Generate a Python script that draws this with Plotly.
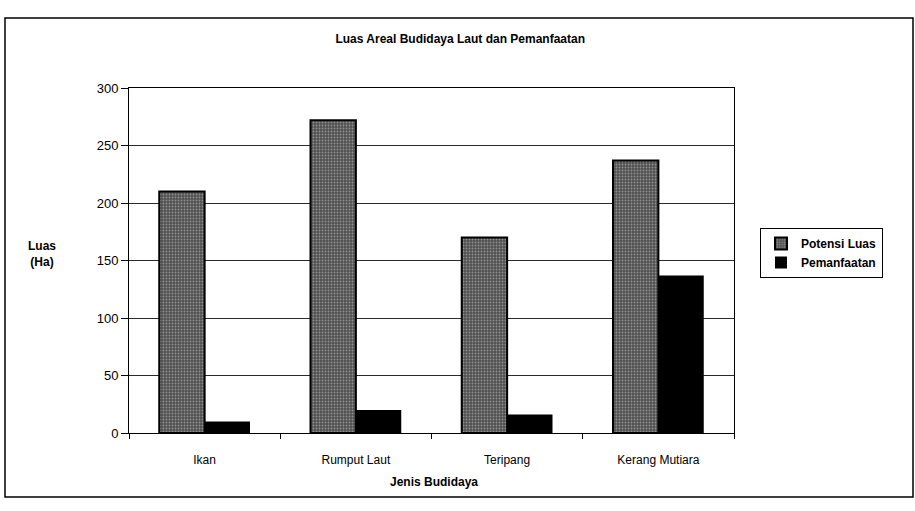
import plotly.graph_objects as go

categories = ["Ikan", "Rumput Laut", "Teripang", "Kerang Mutiara"]
potensi_luas = [210, 272, 170, 237]
pemanfaatan = [10, 20, 16, 137]
y_ticks = [0, 50, 100, 150, 200, 250, 300]

FONT = "Liberation Sans, Arial, sans-serif"

L, T, PW, PH = 129, 88, 605, 345   # plot area in pixels

def px_x(px):
    return (px - L) / PW

def px_y(py):
    return (T + PH - py) / PH

fig = go.Figure()
fig.add_trace(go.Bar(
    x=categories, y=potensi_luas, name="Potensi Luas",
    marker=dict(
        color="#505050",
        line=dict(color="black", width=2),
        pattern=dict(shape=".", fgcolor="#d0d0d0", size=3, solidity=0.3, fillmode="overlay"),
    ),
))
fig.add_trace(go.Bar(
    x=categories, y=pemanfaatan, name="Pemanfaatan",
    marker=dict(color="black", line=dict(color="black", width=0)),
))

fig.update_layout(
    width=915, height=511,
    margin=dict(l=L, r=915 - L - PW, t=T, b=511 - T - PH),
    paper_bgcolor="white", plot_bgcolor="white",
    font=dict(family=FONT, size=12, color="black"),
    barmode="group", bargap=0.40, bargroupgap=0,
    title=dict(text="<b>Luas Areal Budidaya Laut dan Pemanfaatan</b>",
               x=0.503, xanchor="center", y=1 - 39 / 511, yanchor="middle",
               font=dict(family=FONT, size=12, color="black")),
    legend=dict(x=px_x(760), y=px_y(228), xanchor="left", yanchor="top",
                bordercolor="black", borderwidth=1, bgcolor="white",
                font=dict(family=FONT, size=12, color="black", weight="bold"),
                itemwidth=30, tracegroupgap=0),
    showlegend=True,
)

fig.update_yaxes(
    range=[0, 300], tickvals=y_ticks, ticktext=[str(v) for v in y_ticks],
    showgrid=True, gridcolor="#2a2a2a", gridwidth=1,
    showline=True, linecolor="black", linewidth=1, mirror=True,
    ticks="outside", ticklen=7, tickcolor="black",
    tickfont=dict(family=FONT, size=13, color="black"),
    zeroline=False,
)
fig.update_xaxes(
    showline=True, linecolor="black", linewidth=1, mirror=True,
    ticks="outside", ticklen=5, tickcolor="black", tickson="boundaries",
    tickfont=dict(family=FONT, size=12, color="black"),
    ticklabelstandoff=16,
)

# axis titles as annotations (horizontal y title)
fig.add_annotation(text="<b>Luas<br>(Ha)</b>", xref="paper", yref="paper",
                   x=px_x(42), y=px_y(254), xanchor="center", yanchor="middle",
                   showarrow=False, align="center",
                   font=dict(family=FONT, size=12, color="black"))
fig.add_annotation(text="<b>Jenis Budidaya</b>", xref="paper", yref="paper",
                   x=px_x(434), y=px_y(482), xanchor="center", yanchor="middle",
                   showarrow=False,
                   font=dict(family=FONT, size=12, color="black"))

# outer chart border
fig.add_shape(type="rect", xref="paper", yref="paper",
              x0=px_x(5), x1=px_x(913), y0=px_y(497), y1=px_y(18),
              line=dict(color="black", width=1.5), fillcolor="rgba(0,0,0,0)", layer="below")

fig.write_html(
    "out.html",
    config={"displayModeBar": False},
    post_script="document.body.style.margin='0px';document.body.style.overflow='hidden';",
)
